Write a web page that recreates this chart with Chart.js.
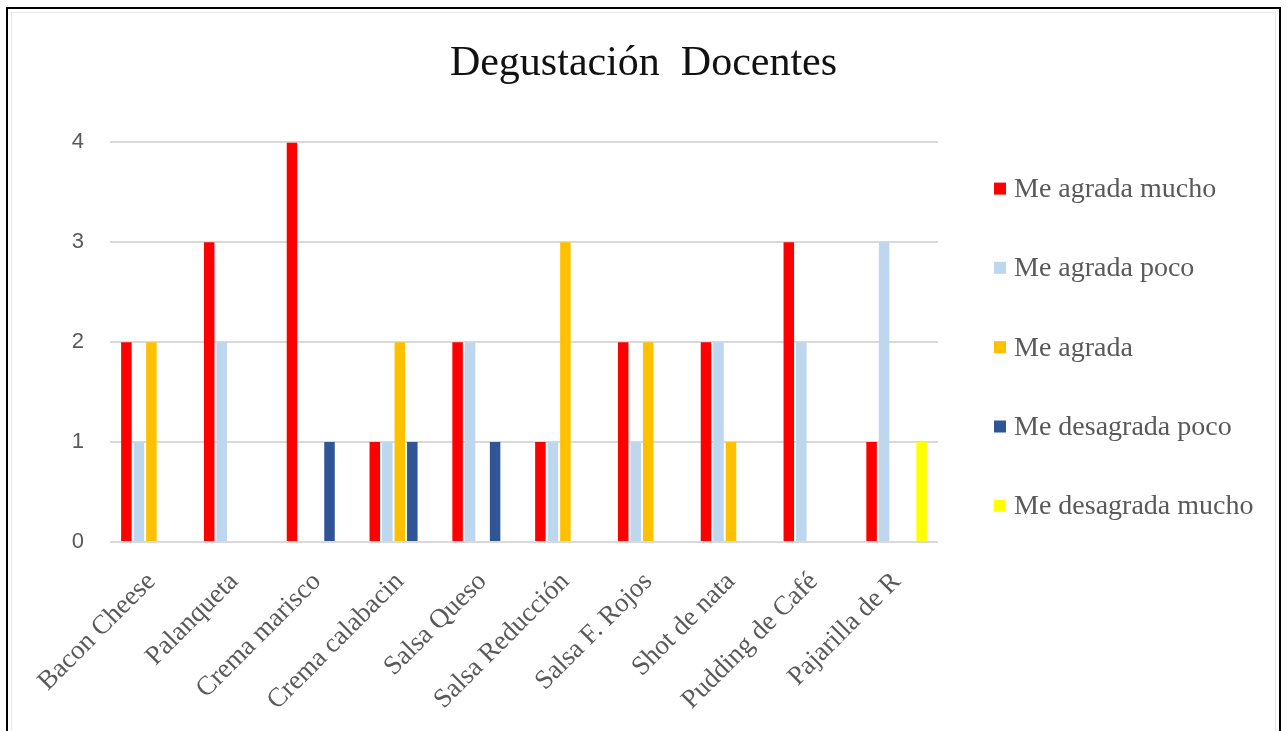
<!DOCTYPE html>
<html>
<head>
<meta charset="utf-8">
<script src="https://cdn.jsdelivr.net/npm/chart.js@4/dist/chart.umd.min.js"></script>
<style>
  html, body { margin: 0; padding: 0; background: #ffffff; }
  #wrap { position: relative; width: 1287px; height: 731px; overflow: hidden; }
  #frame {
    position: absolute; left: 6px; top: 7px; width: 1271px; height: 760px;
    border: 2px solid #000; box-sizing: content-box;
  }
  #inner {
    position: absolute; left: 3px; top: 3px; right: 3px; bottom: 3px;
    border: 1px solid #e8e8e8;
  }
  canvas { position: absolute; left: 0; top: 0; }
</style>
</head>
<body>
<div id="wrap">
  <div id="frame"><div id="inner"></div></div>
  <canvas id="c" width="1287" height="731"></canvas>
</div>
<script>
// Tasting results by dish
const categories = ['Bacon Cheese', 'Palanqueta', 'Crema marisco', 'Crema calabacin', 'Salsa Queso',
  'Salsa Reducción', 'Salsa F. Rojos', 'Shot de nata', 'Pudding de Café', 'Pajarilla de R'];
const meAgradaMucho    = [2, 3, 4, 1, 2, 1, 2, 2, 3, 1];
const meAgradaPoco     = [1, 2, 0, 1, 2, 1, 1, 2, 2, 3];
const meAgrada         = [2, 0, 0, 2, 0, 3, 2, 1, 0, 0];
const meDesagradaPoco  = [0, 0, 1, 1, 1, 0, 0, 0, 0, 0];
const meDesagradaMucho = [0, 0, 0, 0, 0, 0, 0, 0, 0, 1];
const seriesNames = ['Me agrada mucho', 'Me agrada poco', 'Me agrada', 'Me desagrada poco', 'Me desagrada mucho'];
const yTicks = [0, 1, 2, 3, 4];

const colors = ['#ff0000', '#bdd7ee', '#ffc000', '#2f5597', '#ffff00'];
const seriesValues = [meAgradaMucho, meAgradaPoco, meAgrada, meDesagradaPoco, meDesagradaMucho];

const serif = '"Liberation Serif", "Times New Roman", serif';
const sans = '"Liberation Sans", Arial, sans-serif';
const grey = '#595959';

// Legend drawn as a vertical list with wide spacing to the right of the plot
const sideLegend = {
  id: 'sideLegend',
  afterDraw(chart) {
    const ctx = chart.ctx;
    const area = chart.chartArea;
    const mid = (area.top + area.bottom) / 2 + 5;
    const step = 79.3;
    const n = chart.data.datasets.length;
    ctx.save();
    ctx.font = '28px ' + serif;
    ctx.textBaseline = 'middle';
    ctx.textAlign = 'left';
    chart.data.datasets.forEach((ds, i) => {
      const cy = mid + (i - (n - 1) / 2) * step;
      const x0 = area.right + 56;
      ctx.fillStyle = ds.backgroundColor;
      ctx.fillRect(x0, cy - 6, 12, 12);
      ctx.fillStyle = grey;
      ctx.fillText(ds.label, x0 + 20, cy + 1);
    });
    ctx.restore();
  }
};

new Chart(document.getElementById('c'), {
  type: 'bar',
  data: {
    labels: categories,
    datasets: seriesNames.map((name, i) => ({
      label: name,
      data: seriesValues[i],
      backgroundColor: colors[i],
      borderWidth: 0,
      barPercentage: 0.84,
      categoryPercentage: 0.755
    }))
  },
  options: {
    responsive: false,
    animation: false,
    layout: { padding: 0 },
    plugins: {
      legend: { display: false },
      tooltip: { enabled: false },
      title: {
        display: true,
        text: 'Degustación  Docentes',
        color: '#111111',
        font: { family: serif, size: 42, weight: 'normal' },
        padding: { top: 39, bottom: 53 }
      }
    },
    scales: {
      x: {
        grid: { display: false, drawTicks: false },
        border: { display: false },
        ticks: {
          color: grey,
          font: { family: serif, size: 27 },
          minRotation: 45,
          maxRotation: 45,
          padding: 24,
          autoSkip: false
        },
        afterFit(scale) { scale.height = 189; }
      },
      y: {
        min: 0,
        max: 4,
        afterBuildTicks(scale) { scale.ticks = yTicks.map(v => ({ value: v })); },
        grid: { color: '#d9d9d9', lineWidth: 2, drawTicks: false },
        border: { display: false },
        ticks: {
          color: grey,
          font: { family: sans, size: 22 },
          padding: 26
        },
        afterFit(scale) { scale.width = 110; }
      },
      // empty right-hand band that holds the legend column
      legendBand: {
        type: 'linear',
        position: 'right',
        display: true,
        grid: { display: false, drawTicks: false },
        border: { display: false },
        ticks: { display: false },
        afterFit(scale) { scale.width = 349; }
      }
    }
  },
  plugins: [sideLegend]
});
</script>
</body>
</html>
